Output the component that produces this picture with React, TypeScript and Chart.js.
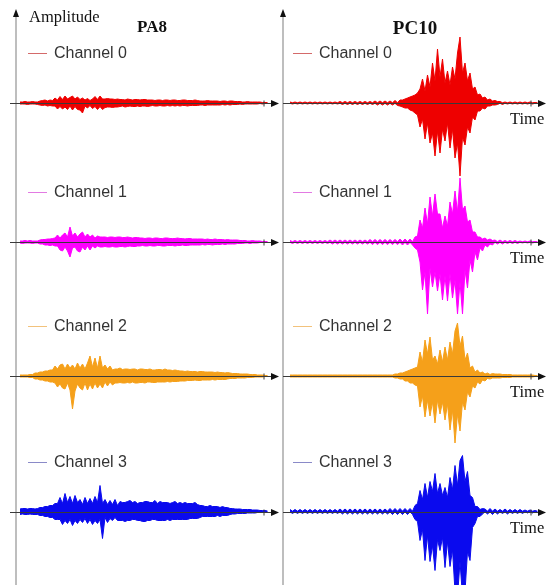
import { useEffect, useRef } from "react";
import { Chart, registerables } from "chart.js";

Chart.register(...registerables);

// ---- Labels ----
const columnTitles = ["PA8", "PC10"];
const channelNames = ["Channel 0", "Channel 1", "Channel 2", "Channel 3"];
const axisYLabel = "Amplitude";
const axisXLabel = "Time";

// ---- Colours ----
const channelColors = ["#ee0000", "#ff00ff", "#f5a01a", "#0a0aee"];
const legendColors = ["#d46a6a", "#e27ae2", "#f2c27c", "#8a8ac8"];

// ---- Signal envelopes: upper / lower amplitude per time sample ----
const pa8Ch0Top = [1,1,1.5,1,1,1.5,1,1, 2,2.5,3,2,3,2.5, 5,3,6.5,3.5,7,4,5.5,7, 4,6,3.5,5, 3,4.5,2.5,4, 6.5,3.5,7,4, 4,4.5,4,4,3.5,4, 3.5,3.5,3,4,3.5,3,3.5,3.5,3,3.5,3.5,3, 3,3,2.5,3,3,2.5,3,3,2.5,3,3,2.5,2.5,3,3,2.5,2.5,2.5,3,2.5, 2,2,2,2.5,2,2,2,2,1.5,2,2,1.5,2,2,1.5,1.5, 1.5,1,1,1.5,1,1,1,1,1,0.5,0.5,0.5];
const pa8Ch0Bot = [-1,-1,-1,-1.5,-1,-1,-1,-1.5, -2,-2.5,-2,-3,-2.5,-3, -3,-6,-3.5,-6,-4,-6.5,-3,-7, -3.5,-6.5,-7,-10, -3,-5,-2.5,-5.5, -3.5,-6.5,-3.5,-6.5, -4.5,-4,-4,-4.5,-4,-4, -3.5,-3,-4,-3.5,-3,-3.5,-3.5,-3,-3.5,-3,-3,-3.5, -3,-2.5,-3,-3,-2.5,-3,-3,-2.5,-3,-2.5,-3,-2.5,-3,-2.5,-2.5,-3,-2.5,-2.5,-2.5,-2.5, -2,-2,-2.5,-2,-2,-2,-2,-2,-2,-1.5,-2,-1.5,-2,-1.5,-1.5,-1.5, -1,-1.5,-1,-1,-1,-1,-1,-1,-0.5,-1,-0.5,-0.5];

const pa8Ch1Top = [1,1,1.5,1,1.5,1,1,1, 2,2.5,2.5,3,3,3.5,4, 7,4,7,9,5, 15,6, 9,5,8,10,5,8,5,7,4,6, 5,5,5,4.5,5,5,4.5,5,5,4.5,4.5,5,4.5,4,4.5,4.5, 4,4,3.5,4,4,3.5,4,4,3.5,3.5,4,4,3.5,3.5,3.5,4,3.5,3.5,3,3.5,3.5,3,3,3, 3,3,2.5,3,2.5,2.5,3,2.5,2.5,2.5,2,2.5,2,2,2,2, 1.5,1.5,1.5,1,1,1.5,1,1,1,0.5,0.5,0.5];
const pa8Ch1Bot = [-1,-1.5,-1,-1,-1,-1.5,-1,-1, -2,-2,-3,-3,-3.5,-3,-4, -4,-8,-9,-5,-9, -15,-6, -5,-9,-10,-5,-8,-4,-8,-4,-6,-4, -5,-5,-4.5,-5,-5,-4.5,-5,-5,-4.5,-4.5,-5,-4.5,-4,-4.5,-4.5,-4, -4,-3.5,-4,-4,-3.5,-4,-4,-3.5,-3.5,-4,-4,-3.5,-3.5,-3.5,-4,-3.5,-3.5,-3,-3.5,-3.5,-3,-3,-3,-3, -3,-2.5,-3,-2.5,-2.5,-3,-2.5,-2.5,-2.5,-2,-2.5,-2,-2,-2,-2,-1.5, -1.5,-1.5,-1,-1,-1.5,-1,-1,-1,-0.5,-0.5,-0.5,-0.5];

const pa8Ch2Top = [1,1,1,1,1.5,1.5, 3,3,4,4,5,5,6,6, 10,7,11,12,7,12,8, 11, 7,13,8,12,7,13, 20,9,18,8,20,8, 11,7,10,6, 7,7,8,6.5,7,7,6.5,7,7,6,7,7,6.5,6.5,7,6,6,6.5,6.5,6,7,6,6,5.5,6,5.5, 5,5,4.5,5,4.5,4.5,4.5,4,4.5,4.5,4,4,4,4,3.5,4,3.5,3.5,3,3.5, 3,2.5,2.5,2.5,2,2,2,2,1.5,1.5,1.5,1,1,1,0.5,0.5];
const pa8Ch2Bot = [-1,-1,-1,-1,-1.5,-1.5, -3,-3,-4,-4,-5,-5,-6,-6, -7,-11,-8,-12,-13,-7,-14, -33, -15,-8,-12,-14,-7,-14, -8,-13,-7,-12,-8,-12, -6,-10,-6,-9, -7,-7,-6.5,-7,-7,-6.5,-7,-6,-7,-7,-6.5,-6.5,-7,-6,-6,-6.5,-6.5,-6,-6,-6,-6,-5.5,-6,-5.5,-5.5,-5.5, -5,-5,-5,-4.5,-4.5,-4.5,-4,-4.5,-4.5,-4,-4,-4,-4,-3.5,-4,-3.5,-3.5,-3.5,-3.5,-3, -2.5,-2.5,-2.5,-2,-2,-2,-2,-1.5,-1.5,-1.5,-1,-1,-1,-1,-0.5,-0.5];

const pa8Ch3Top = [2.5,3,3,2.5,3,3,2.5,3, 4,4,5,5,6,6,8,8, 14,8,18,9,15,8,16,9,12,7,14,8,13,8,15,9, 26,8, 12,7,11,7,12,6, 10,9,9,10,11,9,10,8,9,9,10,10,9,9,11,8,10,9,9,9,8,9,10,8,9,8,9,8,8,8,9,7, 6,6,5,5,6,5,5,5,4,5,4,4, 3,3,2.5,2.5,2.5,2,2,2,2,1.5,1.5,1.5,1,1,1,0.5];
const pa8Ch3Bot = [-3,-2.5,-3,-3,-2.5,-3,-3,-3, -4,-4,-5,-5,-6,-6,-8,-8, -8,-13,-9,-12,-8,-14,-9,-12,-8,-11,-7,-12,-8,-13,-9,-12, -8,-27, -6,-11,-7,-9,-6,-9, -9,-9,-10,-9,-9,-8,-8,-9,-9,-10,-10,-9,-9,-8,-8,-9,-9,-9,-9,-8,-9,-8,-8,-8,-8,-8,-8,-8,-7,-7,-7,-7, -6,-5,-5,-5,-5,-5,-5,-4,-5,-4,-4,-4, -3,-2.5,-2.5,-2,-2,-2,-2,-1.5,-1.5,-1.5,-1.5,-1,-1,-1,-0.5,-0.5];

const pc10Ch0Top = [1,0.3,1,0.3,1,0.3,1,0.3,1,0.3, 1,0.3,1,0.3,1,0.3,1,0.3,1,0.3, 1.5,0.3,1.5,0.3,1.5,0.3,1.5,0.3,1.5,0.3, 1.5,0.3,1.5,0.3,2,0.3,2,0.3,2,0.3, 2,0.3,2.5,0.3, 3,3,4,5,6,7,8,10, 14,24,12,28,16,40,22,54,26,44,20,32,18,36,24,50,66,30,40,22,30,14,16,8,9,5,6,3,4,2,2.5,1.5, 1.5,0.3,1,0.3,1,0.3,1,0.3,1,0.3,1,0.3,1,0.3,0.5,0.3];
const pc10Ch0Bot = [-0.3,-1,-0.3,-1,-0.3,-1,-0.3,-1,-0.3,-1, -0.3,-1,-0.3,-1,-0.3,-1,-0.3,-1,-0.3,-1, -0.3,-1.5,-0.3,-1.5,-0.3,-1.5,-0.3,-1.5,-0.3,-1.5, -0.3,-1.5,-0.3,-1.5,-0.3,-2,-0.3,-2,-0.3,-2, -0.3,-2,-0.3,-2.5, -3,-4,-5,-5,-7,-8,-10,-12, -24,-16,-36,-20,-40,-30,-53,-28,-50,-26,-38,-20,-45,-26,-55,-40,-73,-34,-42,-24,-30,-14,-17,-8,-8,-5,-6,-3,-3,-2,-2,-1.5, -0.3,-1.5,-0.3,-1,-0.3,-1,-0.3,-1,-0.3,-1,-0.3,-1,-0.3,-1,-0.3,-0.5];

const pc10Ch1Top = [1.5,0.3,1.5,0.3,1.5,0.3,1.5,0.3,1.5,0.3,1.5,0.3,1.5,0.3,1.5,0.3, 2,0.3,2,0.3,2,0.3,2,0.3,2,0.3,2,0.3,2,0.3,2,0.3, 2.5,0.3,2.5,0.3,2.5,0.3,2.5,0.3,2.5,0.3,2.5,0.3, 3,0.3,3,0.3,3,0.3, 5,6, 22,14,34,18,45,26,48,28,28,14,26,16,40,28,51,30,64,32,36,20,22,10,10,5,5,3,4,2,3,1.5, 2,0.3,2,0.3,1.5,0.3,1.5,0.3,1.5,0.3,1,0.3,1,0.3,1,0.3,0.5,0.3];
const pc10Ch1Bot = [-0.3,-1.5,-0.3,-1.5,-0.3,-1.5,-0.3,-1.5,-0.3,-1.5,-0.3,-1.5,-0.3,-1.5,-0.3,-1.5, -0.3,-2,-0.3,-2,-0.3,-2,-0.3,-2,-0.3,-2,-0.3,-2,-0.3,-2,-0.3,-2, -0.3,-2.5,-0.3,-2.5,-0.3,-2.5,-0.3,-2.5,-0.3,-2.5,-0.3,-2.5, -0.3,-3,-0.3,-3,-0.3,-3, -6,-8, -20,-48,-30,-72,-26,-45,-30,-49,-32,-58,-34,-59,-32,-56,-38,-72,-40,-72,-28,-46,-18,-30,-10,-18,-6,-9,-3,-5,-2,-3, -0.3,-2,-0.3,-2,-0.3,-1.5,-0.3,-1.5,-0.3,-1.5,-0.3,-1,-0.3,-1,-0.3,-1,-0.3,-0.5];

const pc10Ch2Top = [1,1,1,1,1,1,1,1,1,1, 1,1,1,1,1,1,1,1,1,1, 1,1,1,1,1,1,1,1,1,1, 1,1,1,1,1,1,1,1,1,1, 1,1, 2,2,3,3,4,5,6,7,8,9, 24,14,36,22,39,16,20,12,26,14,29,16,34,22,45,53,30,40,16,23,8,10,4,6,3,4,2,3,1.5,2.5, 2,2,2,1.5,1.5,1.5,1.5,1,1,1,1,1,1,1,1,1,0.5,0.5];
const pc10Ch2Bot = [-1,-1,-1,-1,-1,-1,-1,-1,-1,-1, -1,-1,-1,-1,-1,-1,-1,-1,-1,-1, -1,-1,-1,-1,-1,-1,-1,-1,-1,-1, -1,-1,-1,-1,-1,-1,-1,-1,-1,-1, -1,-1, -2,-2,-3,-3,-5,-5,-7,-7,-9,-10, -31,-20,-41,-24,-40,-26,-47,-24,-38,-26,-44,-28,-54,-34,-67,-38,-55,-26,-34,-16,-21,-10,-12,-6,-8,-4,-5,-2.5,-3,-2, -2,-2,-2,-1.5,-1.5,-1.5,-1.5,-1,-1,-1,-1,-1,-1,-1,-1,-1,-0.5,-0.5];

const pc10Ch3Top = [2,0.3,2,0.3,2,0.3,2,0.3,2,0.3,2,0.3,2,0.3,2,0.3,2,0.3,2,0.3, 2.5,0.3,2.5,0.3,2.5,0.3,2.5,0.3,2.5,0.3,2.5,0.3,2.5,0.3,2.5,0.3,2.5,0.3,2.5,0.3, 3,0.3,3,0.3,3,0.3,3,0.3,3,0.3, 6,8, 21,12,28,14,30,20,38,18,28,16,24,14,34,22,46,26,51,56,30,40,16,14,5,5,2,3, 2.5,0.3,3,0.3,2.5,0.3,2,0.3,2.5,0.3,2,0.3,2,0.3,2,0.3,1.5,0.3,1.5,0.3,1,0.3];
const pc10Ch3Bot = [-0.3,-2,-0.3,-2,-0.3,-2,-0.3,-2,-0.3,-2,-0.3,-2,-0.3,-2,-0.3,-2,-0.3,-2,-0.3,-2, -0.3,-2.5,-0.3,-2.5,-0.3,-2.5,-0.3,-2.5,-0.3,-2.5,-0.3,-2.5,-0.3,-2.5,-0.3,-2.5,-0.3,-2.5,-0.3,-2.5, -0.3,-3,-0.3,-3,-0.3,-3,-0.3,-3,-0.3,-3, -8,-10, -29,-18,-49,-24,-50,-34,-59,-28,-39,-26,-56,-30,-55,-38,-80,-85,-50,-85,-80,-40,-49,-16,-12,-5,-5,-2.5, -0.3,-2.5,-0.3,-3,-0.3,-2.5,-0.3,-2,-0.3,-2.5,-0.3,-2,-0.3,-2,-0.3,-2,-0.3,-1.5,-0.3,-1.5,-0.3,-1];

const leftTop = [pa8Ch0Top, pa8Ch1Top, pa8Ch2Top, pa8Ch3Top];
const leftBot = [pa8Ch0Bot, pa8Ch1Bot, pa8Ch2Bot, pa8Ch3Bot];
const rightTop = [pc10Ch0Top, pc10Ch1Top, pc10Ch2Top, pc10Ch3Top];
const rightBot = [pc10Ch0Bot, pc10Ch1Bot, pc10Ch2Bot, pc10Ch3Bot];

// ---- Layout (pixels) ----
const W = 547;
const H = 585;
const rowBaselines = [103, 242, 376, 511.5];
const colAxisX = [16, 283];
const colLineStart = [10, 283];
const colArrowTip = [279, 546];
const colLegendX = [28, 293];
const colTitleX = [152, 415];

export default function App() {
  const ref = useRef<HTMLCanvasElement>(null);

  useEffect(() => {
    if (!ref.current) return;

    const datasets: any[] = [];
    [[leftTop, leftBot], [rightTop, rightBot]].forEach(([tops, bots], c) => {
      tops.forEach((top, r) => {
        const common = {
          borderColor: channelColors[r],
          backgroundColor: channelColors[r],
          borderWidth: 1,
          pointRadius: 0,
          tension: 0,
          clip: false,
          xAxisID: c === 0 ? "xL" : "xR",
          yAxisID: "y" + r,
        };
        datasets.push({
          ...common,
          label: channelNames[r],
          data: top.map((v, i) => ({ x: i, y: v })),
          fill: false,
        });
        datasets.push({
          ...common,
          label: channelNames[r] + " (lower)",
          data: bots[r].map((v, i) => ({ x: i, y: v })),
          fill: "-1",
        });
      });
    });

    const scales: any = {
      xL: { type: "linear", display: false, min: -8, max: -8 + W / 2.5 },
      xR: { type: "linear", display: false, min: -116, max: -116 + W / 2.5 },
    };
    rowBaselines.forEach((b, r) => {
      scales["y" + r] = { type: "linear", display: false, min: b - H, max: b };
    });

    const decor = {
      id: "decor",
      beforeDatasetsDraw(chart: any) {
        const ctx = chart.ctx;
        ctx.save();
        colAxisX.forEach((x) => {
          ctx.strokeStyle = "#a8a8a8";
          ctx.lineWidth = 1.5;
          ctx.beginPath();
          ctx.moveTo(x, 14);
          ctx.lineTo(x, H);
          ctx.stroke();
          ctx.fillStyle = "#111";
          ctx.beginPath();
          ctx.moveTo(x, 9);
          ctx.lineTo(x - 3, 17);
          ctx.lineTo(x + 3, 17);
          ctx.closePath();
          ctx.fill();
        });
        ctx.restore();
      },
      afterDatasetsDraw(chart: any) {
        const ctx = chart.ctx;
        ctx.save();
        rowBaselines.forEach((b, r) => {
          [0, 1].forEach((c) => {
            const y = Math.round(b) + 0.5;
            const tip = colArrowTip[c];
            ctx.strokeStyle = "#3a3a3a";
            ctx.lineWidth = 1;
            ctx.beginPath();
            ctx.moveTo(colLineStart[c], y);
            ctx.lineTo(tip - 6, y);
            ctx.stroke();
            ctx.beginPath();
            ctx.moveTo(tip - 15, y - 3);
            ctx.lineTo(tip - 15, y + 3);
            ctx.stroke();
            ctx.fillStyle = "#111";
            ctx.beginPath();
            ctx.moveTo(tip, y);
            ctx.lineTo(tip - 8, y - 3.5);
            ctx.lineTo(tip - 8, y + 3.5);
            ctx.closePath();
            ctx.fill();

            const ly = Math.round(b - 50) + 0.5;
            ctx.strokeStyle = legendColors[r];
            ctx.lineWidth = 1;
            ctx.beginPath();
            ctx.moveTo(colLegendX[c], ly);
            ctx.lineTo(colLegendX[c] + 19, ly);
            ctx.stroke();
            ctx.fillStyle = "#333";
            ctx.font = "16px 'Liberation Sans', Arial, sans-serif";
            ctx.textAlign = "left";
            ctx.textBaseline = "middle";
            ctx.fillText(channelNames[r], colLegendX[c] + 26, ly);

            if (c === 1) {
              ctx.fillStyle = "#111";
              ctx.font = "16.5px 'Liberation Serif', 'Times New Roman', serif";
              ctx.fillText(axisXLabel, 510, b + 17);
            }
          });
        });

        ctx.fillStyle = "#111";
        ctx.textBaseline = "middle";
        ctx.textAlign = "left";
        ctx.font = "16.5px 'Liberation Serif', 'Times New Roman', serif";
        ctx.fillText(axisYLabel, 29, 18);

        ctx.textAlign = "center";
        ctx.font = "bold 17px 'Liberation Serif', 'Times New Roman', serif";
        ctx.fillText(columnTitles[0], colTitleX[0], 28);
        ctx.font = "bold 19px 'Liberation Serif', 'Times New Roman', serif";
        ctx.fillText(columnTitles[1], colTitleX[1], 29);
        ctx.restore();
      },
    };

    const chart = new Chart(ref.current, {
      type: "line",
      data: { datasets },
      options: {
        responsive: false,
        animation: false,
        events: [],
        layout: { padding: 0 },
        plugins: { legend: { display: false }, tooltip: { enabled: false } },
        scales,
      },
      plugins: [decor],
    } as any);

    return () => chart.destroy();
  }, []);

  return (
    <div style={{ position: "absolute", left: 0, top: 0, width: W, height: H, background: "#fff" }}>
      <canvas ref={ref} width={W} height={H} style={{ display: "block" }} />
    </div>
  );
}
